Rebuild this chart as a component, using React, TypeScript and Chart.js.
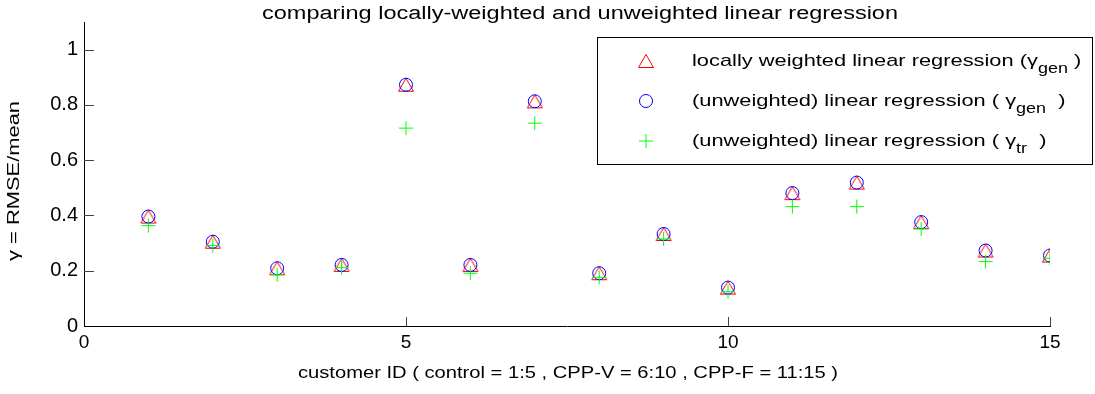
import React, { useEffect, useRef } from "react";
import { Chart, registerables } from "chart.js";

Chart.register(...registerables);

// ---- data ----
const customerIds = [1, 2, 3, 4, 5, 6, 7, 8, 9, 10, 11, 12, 13, 14, 15];
const lwlrGen = [0.396, 0.305, 0.209, 0.221, 0.873, 0.221, 0.813, 0.191, 0.333, 0.139, 0.481, 0.519, 0.376, 0.273, 0.255];
const lrGen = [0.396, 0.305, 0.209, 0.221, 0.873, 0.221, 0.813, 0.191, 0.333, 0.139, 0.481, 0.519, 0.376, 0.273, 0.255];
const lrTr = [0.363, 0.291, 0.185, 0.211, 0.716, 0.191, 0.734, 0.176, 0.315, 0.124, 0.432, 0.432, 0.351, 0.233, 0.245];
const xTickValues = [0, 5, 10, 15];
const yTickValues = [0, 0.2, 0.4, 0.6, 0.8, 1];

const titleText = "comparing locally-weighted and unweighted linear regression";
const xTitle = "customer ID ( control = 1:5 , CPP-V = 6:10 , CPP-F = 11:15 )";
const yTitle = "γ = RMSE/mean";
const legendMain = ["locally weighted linear regression (", "(unweighted) linear regression ( ", "(unweighted) linear regression ( "];
const legendSub = ["gen", "gen", "tr"];
const legendTail = [" )", "  )", "  )"];

const FONT = "'Liberation Sans', Arial, Helvetica, sans-serif";

function makeTriangle(): HTMLCanvasElement {
  const c = document.createElement("canvas");
  c.width = 18;
  c.height = 16;
  const g = c.getContext("2d")!;
  g.strokeStyle = "#ff0000";
  g.lineWidth = 1;
  g.beginPath();
  g.moveTo(9, 1.5);
  g.lineTo(1.5, 14.5);
  g.lineTo(16.5, 14.5);
  g.closePath();
  g.stroke();
  return c;
}

// draws text centred at (cx, cy), stretched horizontally to the given width
function drawWide(ctx: CanvasRenderingContext2D, text: string, cx: number, cy: number, size: number, width: number, rotate = 0) {
  ctx.save();
  ctx.font = `${size}px ${FONT}`;
  const w = ctx.measureText(text).width;
  ctx.translate(cx, cy);
  if (rotate) ctx.rotate(rotate);
  ctx.scale(width / w, 1);
  ctx.textAlign = "center";
  ctx.textBaseline = "middle";
  ctx.fillStyle = "#000";
  ctx.fillText(text, 0, 0);
  ctx.restore();
}

export default function App() {
  const ref = useRef<HTMLCanvasElement | null>(null);

  useEffect(() => {
    if (!ref.current) return;
    const tri = makeTriangle();
    const colors = ["#ff0000", "#0000ff", "#00ff00"];

    const decor = {
      id: "decor",
      afterDraw(chart: any) {
        const ctx = chart.ctx;
        const area = chart.chartArea;
        const xs = chart.scales.x;
        const ys = chart.scales.y;
        ctx.save();
        // inward ticks
        ctx.strokeStyle = "#444";
        ctx.lineWidth = 1;
        xTickValues.forEach((v) => {
          if (v === 0) return;
          const px = Math.round(xs.getPixelForValue(v)) + 0.5;
          ctx.beginPath();
          ctx.moveTo(px, area.bottom);
          ctx.lineTo(px, area.bottom - 9);
          ctx.stroke();
        });
        yTickValues.forEach((v) => {
          if (v === 0) return;
          const py = Math.round(ys.getPixelForValue(v)) + 0.5;
          ctx.beginPath();
          ctx.moveTo(area.left, py);
          ctx.lineTo(area.left + 10, py);
          ctx.stroke();
        });
        // title and axis titles
        drawWide(ctx, titleText, 580, 14, 18, 636);
        drawWide(ctx, xTitle, 568, 374, 16, 540);
        drawWide(ctx, yTitle, 15, 181, 16, 160, -Math.PI / 2);
        // legend
        const lx = 597.5, ly = 37.5, lw = 495, lh = 127;
        ctx.fillStyle = "#fff";
        ctx.fillRect(lx, ly, lw, lh);
        ctx.strokeStyle = "#000";
        ctx.lineWidth = 1;
        ctx.strokeRect(lx, ly, lw, lh);
        const rows = [61, 101, 141];
        ctx.font = `17px ${FONT}`;
        const stretch = 335 / ctx.measureText(legendMain[0]).width;
        rows.forEach((ry, i) => {
          const mx = 646;
          if (i === 0) {
            ctx.drawImage(tri, mx - tri.width / 2, ry - tri.height / 2);
          } else if (i === 1) {
            ctx.strokeStyle = colors[1];
            ctx.beginPath();
            ctx.arc(mx, ry, 6.5, 0, Math.PI * 2);
            ctx.stroke();
          } else {
            ctx.strokeStyle = colors[2];
            ctx.beginPath();
            ctx.moveTo(mx - 7, ry);
            ctx.lineTo(mx + 7, ry);
            ctx.moveTo(mx, ry - 7);
            ctx.lineTo(mx, ry + 7);
            ctx.stroke();
          }
          ctx.save();
          ctx.translate(692, ry);
          ctx.scale(stretch, 1);
          ctx.fillStyle = "#000";
          ctx.textAlign = "left";
          ctx.textBaseline = "middle";
          ctx.font = `17px ${FONT}`;
          let tx = 0;
          ctx.fillText(legendMain[i], tx, 0);
          tx += ctx.measureText(legendMain[i]).width;
          ctx.fillText("γ", tx, 0);
          tx += ctx.measureText("γ").width;
          ctx.font = `14px ${FONT}`;
          ctx.fillText(legendSub[i], tx, 8);
          tx += ctx.measureText(legendSub[i]).width;
          ctx.font = `17px ${FONT}`;
          ctx.fillText(legendTail[i], tx, 0);
          ctx.restore();
        });
        ctx.restore();
      },
    };

    const chart = new Chart(ref.current, {
      type: "scatter",
      data: {
        datasets: [
          {
            label: "(unweighted) linear regression (γtr)",
            data: customerIds.map((x, i) => ({ x, y: lrTr[i] })),
            pointStyle: "cross",
            pointRadius: 7,
            borderColor: colors[2],
            backgroundColor: "transparent",
            borderWidth: 1,
            order: 1,
          },
          {
            label: "(unweighted) linear regression (γgen)",
            data: customerIds.map((x, i) => ({ x, y: lrGen[i] })),
            pointStyle: "circle",
            pointRadius: 6.5,
            borderColor: colors[1],
            backgroundColor: "transparent",
            borderWidth: 1,
            order: 2,
          },
          {
            label: "locally weighted linear regression (γgen)",
            data: customerIds.map((x, i) => ({ x, y: lwlrGen[i] })),
            pointStyle: tri,
            borderColor: colors[0],
            backgroundColor: "transparent",
            borderWidth: 1,
            order: 3,
          },
        ],
      },
      options: {
        responsive: false,
        animation: false,
        events: [],
        layout: { padding: { top: 22, right: 45, left: 0, bottom: 0 } },
        plugins: { legend: { display: false }, tooltip: { enabled: false }, title: { display: false } },
        scales: {
          x: {
            type: "linear",
            min: 0,
            max: 15,
            afterBuildTicks: (s: any) => {
              s.ticks = xTickValues.map((v) => ({ value: v }));
            },
            afterFit: (s: any) => {
              s.height = 68;
            },
            grid: { display: false, drawTicks: false },
            border: { display: true, color: "#000", width: 1 },
            ticks: { color: "#000", font: { family: FONT, size: 19 }, padding: 5, maxRotation: 0, autoSkip: false, callback: (v: any) => String(v) },
            title: { display: false },
          },
          y: {
            type: "linear",
            min: 0,
            max: 1.1,
            afterBuildTicks: (s: any) => {
              s.ticks = yTickValues.map((v) => ({ value: v }));
            },
            afterFit: (s: any) => {
              s.width = 84;
            },
            grid: { display: false, drawTicks: false },
            border: { display: true, color: "#000", width: 1 },
            ticks: { color: "#000", font: { family: FONT, size: 20 }, padding: 6, autoSkip: false, callback: (v: any) => String(v) },
            title: { display: false },
          },
        },
      },
      plugins: [decor],
    } as any);
    return () => chart.destroy();
  }, []);

  return (
    <div style={{ position: "absolute", left: 0, top: 0, width: 1095, height: 394, background: "#fff" }}>
      <canvas ref={ref} width={1095} height={394} style={{ width: 1095, height: 394, display: "block" }} />
    </div>
  );
}
